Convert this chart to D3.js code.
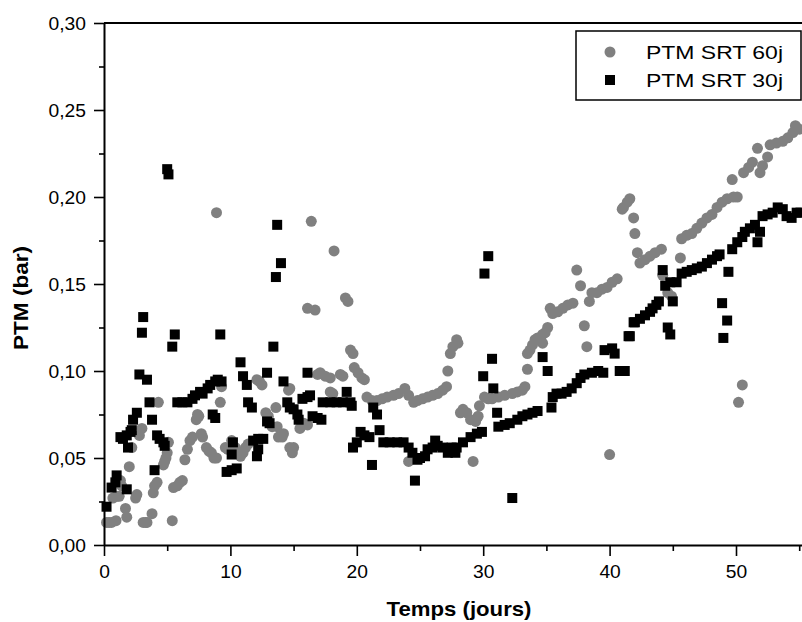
<!DOCTYPE html>
<html><head><meta charset="utf-8">
<script src="https://cdn.jsdelivr.net/npm/d3@7"></script>
<style>body{margin:0;background:#fff}svg{display:block}text{font-family:"Liberation Sans",Arial,sans-serif}</style>
</head><body><svg id="c" width="802" height="622"></svg>
<script>
const xTicks=[0,10,20,30,40,50];
const yTicks=[0,0.05,0.10,0.15,0.20,0.25,0.30];
const seriesNames=["PTM SRT 60j","PTM SRT 30j"];
const t60=[0.2,0.4,0.6,0.95,0.7,1.0,1.2,1.3,1.4,1.7,1.8,2.0,2.2,2.5,2.6,2.8,3.0,3.1,3.3,3.4,3.8,3.9,4.0,4.2,4.3,4.7,4.8,4.9,5.0,5.1,5.4,5.5,5.8,6.0,6.2,6.4,6.6,6.8,7.0,7.3,7.4,7.5,7.7,7.8,8.1,8.3,8.5,8.7,8.9,8.9,9.2,9.3,9.6,9.8,10.1,10.4,10.7,10.8,11.0,11.2,11.4,12.1,12.3,12.5,12.8,13.0,13.3,13.6,13.7,13.8,14.1,14.2,14.6,14.7,14.7,14.9,15.0,15.5,15.8,16.1,16.1,16.4,16.7,16.9,17.1,17.5,17.9,17.9,18.1,18.2,18.7,18.9,19.1,19.3,19.5,19.7,19.8,20.1,20.4,20.6,20.8,21.2,21.6,22.0,22.4,22.9,23.3,23.8,24.1,24.1,24.5,24.8,25.2,25.6,26.0,26.4,26.8,27.1,27.2,27.4,27.6,27.9,28.0,28.2,28.4,28.7,29.0,29.2,29.4,29.6,29.7,30.1,30.4,30.7,31.2,31.7,32.3,32.7,33.1,33.3,33.5,33.5,33.7,33.9,34.1,34.3,34.7,34.7,34.9,35.1,35.3,35.5,35.9,36.3,36.7,37.1,37.4,37.7,38.0,38.2,38.4,38.6,39.0,39.4,39.8,40.0,40.2,40.6,41.0,41.1,41.4,41.6,41.9,42.0,42.2,42.4,42.8,43.2,43.6,44.1,44.2,44.6,44.9,45.6,45.7,46.1,46.5,46.9,47.3,47.7,48.1,48.5,48.9,49.3,49.7,49.8,50.1,50.2,50.5,50.6,51.0,51.3,51.7,51.9,52.1,52.5,52.7,53.2,53.7,54.1,54.5,54.7,55.0];
const p60=[0.013,0.013,0.013,0.014,0.027,0.028,0.028,0.037,0.034,0.021,0.016,0.045,0.056,0.027,0.029,0.063,0.067,0.013,0.013,0.013,0.018,0.03,0.034,0.036,0.082,0.046,0.048,0.05,0.053,0.059,0.014,0.033,0.034,0.036,0.037,0.049,0.055,0.06,0.062,0.072,0.075,0.074,0.064,0.062,0.056,0.054,0.053,0.05,0.191,0.05,0.082,0.091,0.056,0.055,0.06,0.056,0.053,0.051,0.053,0.056,0.058,0.095,0.094,0.092,0.076,0.074,0.068,0.079,0.068,0.062,0.062,0.064,0.089,0.09,0.056,0.053,0.056,0.067,0.07,0.069,0.136,0.186,0.135,0.098,0.099,0.097,0.096,0.088,0.087,0.169,0.098,0.097,0.142,0.14,0.112,0.11,0.102,0.099,0.096,0.095,0.085,0.083,0.083,0.084,0.085,0.086,0.087,0.09,0.086,0.048,0.082,0.083,0.084,0.085,0.086,0.087,0.089,0.091,0.1,0.11,0.114,0.118,0.116,0.076,0.078,0.076,0.072,0.048,0.071,0.074,0.08,0.085,0.084,0.084,0.085,0.086,0.087,0.088,0.089,0.091,0.101,0.11,0.112,0.115,0.118,0.119,0.121,0.116,0.122,0.125,0.136,0.133,0.134,0.136,0.138,0.139,0.158,0.149,0.126,0.114,0.14,0.145,0.145,0.147,0.148,0.052,0.151,0.153,0.193,0.194,0.197,0.199,0.188,0.179,0.168,0.162,0.164,0.166,0.168,0.17,0.155,0.145,0.143,0.165,0.176,0.178,0.179,0.182,0.185,0.188,0.19,0.194,0.197,0.199,0.21,0.2,0.2,0.082,0.092,0.214,0.217,0.22,0.228,0.214,0.218,0.223,0.23,0.231,0.232,0.234,0.237,0.241,0.239];
const t30=[0.2,0.6,0.9,1.0,1.3,1.5,1.8,1.8,1.9,2.1,2.2,2.3,2.6,2.8,3.0,3.1,3.4,3.6,3.8,4.0,4.2,4.4,4.7,4.8,5.0,5.1,5.4,5.6,5.8,6.2,6.6,7.0,7.2,7.6,7.8,8.2,8.4,8.6,8.8,8.8,9.0,9.2,9.3,9.7,10.1,10.1,10.2,10.5,10.8,11.0,11.3,11.4,11.7,11.8,12.1,12.2,12.2,12.6,12.9,12.9,13.1,13.4,13.6,13.7,14.0,14.2,14.5,14.7,15.0,15.3,15.4,15.7,16.1,16.1,16.3,16.5,16.9,17.2,17.3,17.9,18.4,18.9,19.2,19.5,19.6,19.7,20.0,20.3,20.6,21.0,21.2,21.3,21.6,21.8,22.1,22.6,23.2,23.7,24.1,24.4,24.6,24.8,25.0,25.4,25.6,26.0,26.2,26.4,26.8,27.2,27.5,27.8,27.9,28.4,29.0,29.5,29.9,30.0,30.1,30.4,30.7,30.8,31.1,31.2,31.7,32.1,32.3,32.7,33.1,33.5,33.9,34.3,34.7,35.1,35.4,35.5,35.8,36.2,36.6,37.0,37.4,37.7,38.0,38.6,39.1,39.5,39.6,40.2,40.4,40.8,41.2,41.5,41.6,41.9,42.0,42.4,42.8,43.2,43.4,43.7,43.9,44.2,44.4,44.6,44.8,44.8,45.0,45.3,45.7,46.1,46.5,46.9,47.3,47.7,48.1,48.5,48.7,48.9,49.0,49.3,49.4,49.7,50.1,50.5,50.7,51.1,51.5,51.7,51.9,52.1,52.5,52.9,53.3,53.7,54.0,54.4,54.8,55.1];
const p30=[0.022,0.033,0.036,0.04,0.062,0.061,0.063,0.032,0.056,0.065,0.066,0.072,0.076,0.098,0.122,0.131,0.095,0.082,0.072,0.043,0.063,0.061,0.059,0.057,0.216,0.213,0.114,0.121,0.082,0.082,0.082,0.084,0.086,0.088,0.087,0.09,0.092,0.075,0.073,0.094,0.095,0.121,0.094,0.042,0.043,0.052,0.059,0.044,0.105,0.097,0.092,0.082,0.079,0.06,0.051,0.055,0.061,0.061,0.099,0.071,0.07,0.114,0.154,0.184,0.162,0.094,0.082,0.079,0.078,0.075,0.072,0.084,0.085,0.099,0.086,0.074,0.073,0.072,0.082,0.082,0.082,0.082,0.088,0.082,0.08,0.056,0.059,0.065,0.063,0.062,0.046,0.079,0.075,0.066,0.059,0.059,0.059,0.059,0.056,0.053,0.037,0.049,0.05,0.051,0.055,0.056,0.06,0.057,0.056,0.053,0.056,0.053,0.056,0.059,0.062,0.064,0.065,0.097,0.156,0.166,0.107,0.09,0.076,0.068,0.069,0.07,0.027,0.072,0.074,0.075,0.076,0.077,0.108,0.1,0.079,0.085,0.087,0.087,0.088,0.09,0.093,0.096,0.098,0.099,0.1,0.099,0.112,0.113,0.11,0.1,0.1,0.12,0.12,0.128,0.128,0.13,0.132,0.134,0.136,0.138,0.14,0.158,0.149,0.125,0.121,0.151,0.14,0.151,0.156,0.157,0.158,0.159,0.16,0.162,0.164,0.166,0.167,0.139,0.119,0.129,0.157,0.17,0.174,0.177,0.18,0.182,0.184,0.174,0.18,0.189,0.19,0.191,0.194,0.193,0.189,0.188,0.191,0.191];

const svg=d3.select("#c");
const x=d3.scaleLinear().domain([0,56]).range([104,104+56*12.64]);
const y=d3.scaleLinear().domain([0,0.30]).range([545,23]);
const fmt=d=>d3.format(".2f")(d).replace(".",",");

function stretch(sel,f){sel.each(function(){const w=this.getComputedTextLength();d3.select(this).attr("textLength",w*f).attr("lengthAdjust","spacingAndGlyphs");});}

// points
const d60=t60.map((t,i)=>[t,p60[i]]);
const d30=t30.map((t,i)=>[t,p30[i]]);
svg.append("g").selectAll("circle").data(d60).join("circle")
  .attr("cx",d=>x(d[0])).attr("cy",d=>y(d[1])).attr("r",5.5).attr("fill","#808080");
svg.append("g").selectAll("rect").data(d30).join("rect")
  .attr("x",d=>x(d[0])-5).attr("y",d=>y(d[1])-5).attr("width",10).attr("height",10).attr("fill","#000");

// axes
const minorX=d3.range(5,56,10), minorY=d3.range(0.025,0.3,0.05);
const xa=svg.append("g").attr("transform","translate(0,545)")
  .call(d3.axisBottom(x).tickValues(xTicks).tickFormat(d3.format("d")).tickSize(11).tickSizeOuter(0).tickPadding(7));
xa.append("g").call(d3.axisBottom(x).tickValues(minorX).tickFormat("").tickSize(6).tickSizeOuter(0)).select(".domain").remove();
const ya=svg.append("g").attr("transform","translate(104,0)")
  .call(d3.axisLeft(y).tickValues(yTicks).tickFormat(fmt).tickSize(10).tickSizeOuter(0).tickPadding(8));
ya.append("g").call(d3.axisLeft(y).tickValues(minorY).tickFormat("").tickSize(5).tickSizeOuter(0)).select(".domain").remove();
svg.selectAll(".domain").attr("stroke","#000").attr("stroke-width",2);
svg.selectAll(".tick line").attr("stroke","#000").attr("stroke-width",1.6);
svg.selectAll(".tick text").attr("font-size",17.5).attr("fill","#000");
xa.selectAll(".tick text").attr("dy","0.71em").attr("y",21);
ya.selectAll(".tick text").attr("dy","0.35em");
stretch(svg.selectAll(".tick text"),1.1);
// top frame
svg.append("line").attr("x1",104).attr("x2",x(56)).attr("y1",23).attr("y2",23).attr("stroke","#000").attr("stroke-width",2);

// titles
svg.append("text").attr("x",459).attr("y",616).attr("text-anchor","middle").attr("font-weight","bold").attr("font-size",21)
  .attr("textLength",145).attr("lengthAdjust","spacingAndGlyphs").text("Temps (jours)");
svg.append("text").attr("transform","translate(28,298) rotate(-90)").attr("text-anchor","middle").attr("font-weight","bold").attr("font-size",21)
  .attr("textLength",104).attr("lengthAdjust","spacingAndGlyphs").text("PTM (bar)");

// legend
const lg=svg.append("g");
lg.append("rect").attr("x",576).attr("y",31).attr("width",225).attr("height",69).attr("fill","#fff").attr("stroke","#000").attr("stroke-width",1.5);
lg.append("circle").attr("cx",610).attr("cy",52).attr("r",5.5).attr("fill","#808080");
lg.append("rect").attr("x",605).attr("y",75).attr("width",10).attr("height",10).attr("fill","#000");
const lt=lg.selectAll("text.l").data(seriesNames).join("text").attr("class","l")
  .attr("x",646).attr("y",(d,i)=>58.5+i*28).attr("font-size",19).text(d=>d);
lt.attr("textLength",137).attr("lengthAdjust","spacingAndGlyphs");
</script></body></html>
